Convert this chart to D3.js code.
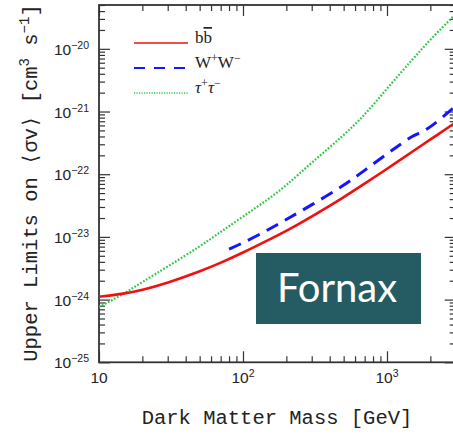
<!DOCTYPE html>
<html>
<head>
<meta charset="utf-8">
<script src="https://cdn.jsdelivr.net/npm/d3@7"></script>
<style>
  body { margin: 0; background: #fff; }
  svg { display: block; }
  .tick line { stroke: #333; stroke-width: 1.2; }
</style>
</head>
<body>
<svg id="chart" width="453" height="438"></svg>
<script>
// values (mass in GeV, <sigma v> in cm^3 s^-1)
const massBB = [10, 15, 20, 30, 50, 70, 100, 150, 200, 300, 500, 700, 1000, 1500, 2000, 3000];
const limitBB = [1.11e-24, 1.24e-24, 1.42e-24, 1.85e-24, 2.8e-24, 3.85e-24, 5.6e-24, 8.9e-24, 1.24e-23, 2.11e-23, 4.25e-23, 7.1e-23, 1.21e-22, 2.3e-22, 3.57e-22, 6.7e-22];

const massWW = [80, 100, 150, 200, 300, 500, 700, 1000, 1200, 1500, 1700, 2000, 3000];
const limitWW = [6.4e-24, 8.0e-24, 1.3e-23, 1.9e-23, 3.23e-23, 6.6e-23, 1.15e-22, 2.12e-22, 2.82e-22, 4.11e-22, 4.54e-22, 5.56e-22, 1.22e-21];

const massTT = [10, 15, 20, 30, 50, 70, 100, 150, 200, 300, 500, 700, 1000, 1500, 2000, 3000];
const limitTT = [7.6e-25, 1.25e-24, 1.91e-24, 3.37e-24, 7.0e-24, 1.2e-23, 2.11e-23, 4.0e-23, 6.6e-23, 1.54e-22, 4.14e-22, 8.8e-22, 2.33e-21, 6.75e-21, 1.41e-20, 3.59e-20];

const xDomain = [10, 3000];
const yDomain = [1e-25, 5e-20];
const xLabelExps = [1, 2, 3];
const yLabelExps = [-25, -24, -23, -22, -21, -20];

const seriesNames = ["b", "W+W-", "τ+τ-"];

const svg = d3.select("#chart");
const plotLeft = 99, plotRight = 455.7, plotTop = 5, plotBottom = 362.3;

const x = d3.scaleLog().domain(xDomain).range([plotLeft, plotRight]);
const y = d3.scaleLog().domain(yDomain).range([plotBottom, plotTop]);

// log ticks: majors at powers of ten, minors at 2..9
function logTicks(domain) {
    const major = [], minor = [];
    const lo = Math.floor(Math.log10(domain[0])), hi = Math.ceil(Math.log10(domain[1]));
    for (let e = lo; e <= hi; e++) {
        for (let k = 1; k <= 9; k++) {
            const v = k * Math.pow(10, e);
            if (v < domain[0] * 0.999 || v > domain[1] * 1.001) continue;
            (k === 1 ? major : minor).push(v);
        }
    }
    return { major, minor };
}
const xt = logTicks(xDomain), yt = logTicks(yDomain);

function addAxis(axis, tx, ty, values, size) {
    const g = svg.append("g")
        .attr("transform", `translate(${tx},${ty})`)
        .call(axis.tickValues(values).tickSize(-size).tickFormat(""));
    g.select(".domain").remove();
}
[[xt.minor, 6], [xt.major, 11]].forEach(([v, s]) => {
    addAxis(d3.axisBottom(x), 0, plotBottom, v, s);
    addAxis(d3.axisTop(x), 0, plotTop, v, s);
});
[[yt.minor, 6], [yt.major, 11]].forEach(([v, s]) => {
    addAxis(d3.axisLeft(y), plotLeft, 0, v, s);
    addAxis(d3.axisRight(y), plotRight, 0, v, s);
});

svg.append("rect")
    .attr("x", plotLeft).attr("y", plotTop)
    .attr("width", plotRight - plotLeft).attr("height", plotBottom - plotTop)
    .attr("fill", "none").attr("stroke", "#333").attr("stroke-width", 1.8);

// tick labels
const tickFont = "'Liberation Sans', Arial, sans-serif";
xLabelExps.forEach(e => {
    const t = svg.append("text")
        .attr("x", x(Math.pow(10, e))).attr("y", 383)
        .attr("text-anchor", "middle")
        .attr("font-family", tickFont).attr("font-size", 15.5).attr("fill", "#222");
    t.append("tspan").text("10");
    if (e > 1) t.append("tspan").attr("font-size", 10.5).attr("dy", -6).text(e);
});
yLabelExps.forEach(e => {
    const t = svg.append("text")
        .attr("x", 89).attr("y", y(Math.pow(10, e)) + 6)
        .attr("text-anchor", "end")
        .attr("font-family", tickFont).attr("font-size", 15.5).attr("fill", "#222");
    t.append("tspan").text("10");
    t.append("tspan").attr("font-size", 10.5).attr("dy", -6).text("−" + Math.abs(e));
});

// axis titles
const titleFont = "'Liberation Mono', 'DejaVu Sans Mono', monospace";
svg.append("text")
    .attr("x", 277).attr("y", 424)
    .attr("text-anchor", "middle")
    .attr("font-family", titleFont).attr("font-size", 20.5).attr("fill", "#222")
    .text("Dark Matter Mass [GeV]");

const yTitle = svg.append("text")
    .attr("transform", "translate(37,183) rotate(-90)")
    .attr("text-anchor", "middle")
    .attr("font-family", titleFont).attr("font-size", 20.5).attr("fill", "#222");
yTitle.append("tspan").text("Upper Limits on ⟨σv⟩ [cm");
yTitle.append("tspan").attr("font-size", 14).attr("dy", -8).text("3");
yTitle.append("tspan").attr("dy", 8).text(" s");
yTitle.append("tspan").attr("font-size", 14).attr("dy", -8).text("−1");
yTitle.append("tspan").attr("dy", 8).text("]");

// curves
svg.append("clipPath").attr("id", "plot-clip")
    .append("rect").attr("x", plotLeft).attr("y", plotTop)
    .attr("width", plotRight - plotLeft).attr("height", plotBottom - plotTop);

const line = d3.line()
    .x(d => x(d[0]))
    .y(d => y(d[1]))
    .curve(d3.curveBasis);

const curves = svg.append("g").attr("clip-path", "url(#plot-clip)");
curves.append("path")
    .attr("d", line(d3.zip(massTT, limitTT)))
    .attr("fill", "none").attr("stroke", "#33c84a").attr("stroke-width", 2.2)
    .attr("stroke-dasharray", "1.8,1.6");
curves.append("path")
    .attr("d", line(d3.zip(massWW, limitWW)))
    .attr("fill", "none").attr("stroke", "#1515ff").attr("stroke-width", 3)
    .attr("stroke-dasharray", "13,8");
curves.append("path")
    .attr("d", line(d3.zip(massBB, limitBB)))
    .attr("fill", "none").attr("stroke", "#f01010").attr("stroke-width", 2.6);

// legend
const legend = svg.append("g");
const legendStyles = [
    { color: "#f01010", dash: null, w: 1.6 },
    { color: "#1515ff", dash: "11,9", w: 2 },
    { color: "#33c84a", dash: "1.2,1.3", w: 1.4 }
];
seriesNames.forEach((name, i) => {
    const ly = 43 + i * 25;
    const st = legendStyles[i];
    legend.append("line")
        .attr("x1", 134).attr("x2", 188).attr("y1", ly).attr("y2", ly)
        .attr("stroke", st.color).attr("stroke-width", st.w)
        .attr("stroke-dasharray", st.dash);
    const t = legend.append("text")
        .attr("x", 195).attr("y", ly)
        .attr("font-family", "'Liberation Serif', 'DejaVu Serif', serif")
        .attr("font-size", 17).attr("fill", "#222");
    if (i === 0) {
        t.append("tspan").text("b");
        t.append("tspan").attr("text-decoration", "overline").text("b");
    } else {
        const sym = name[0];
        t.append("tspan").attr("font-style", i === 2 ? "italic" : null).text(sym);
        t.append("tspan").attr("font-size", 12).attr("dy", -6).text("+");
        t.append("tspan").attr("dy", 6).attr("font-style", i === 2 ? "italic" : null).text(sym);
        t.append("tspan").attr("font-size", 12).attr("dy", -6).text("−");
    }
});

// Fornax label box
svg.append("rect")
    .attr("x", 256).attr("y", 253).attr("width", 165).attr("height", 71)
    .attr("fill", "#255c63");
svg.append("text")
    .attr("x", 337).attr("y", 302)
    .attr("text-anchor", "middle")
    .attr("font-family", "Lato, 'Open Sans', sans-serif")
    .attr("font-size", 40).attr("fill", "#fff")
    .text("Fornax");
</script>
</body>
</html>
